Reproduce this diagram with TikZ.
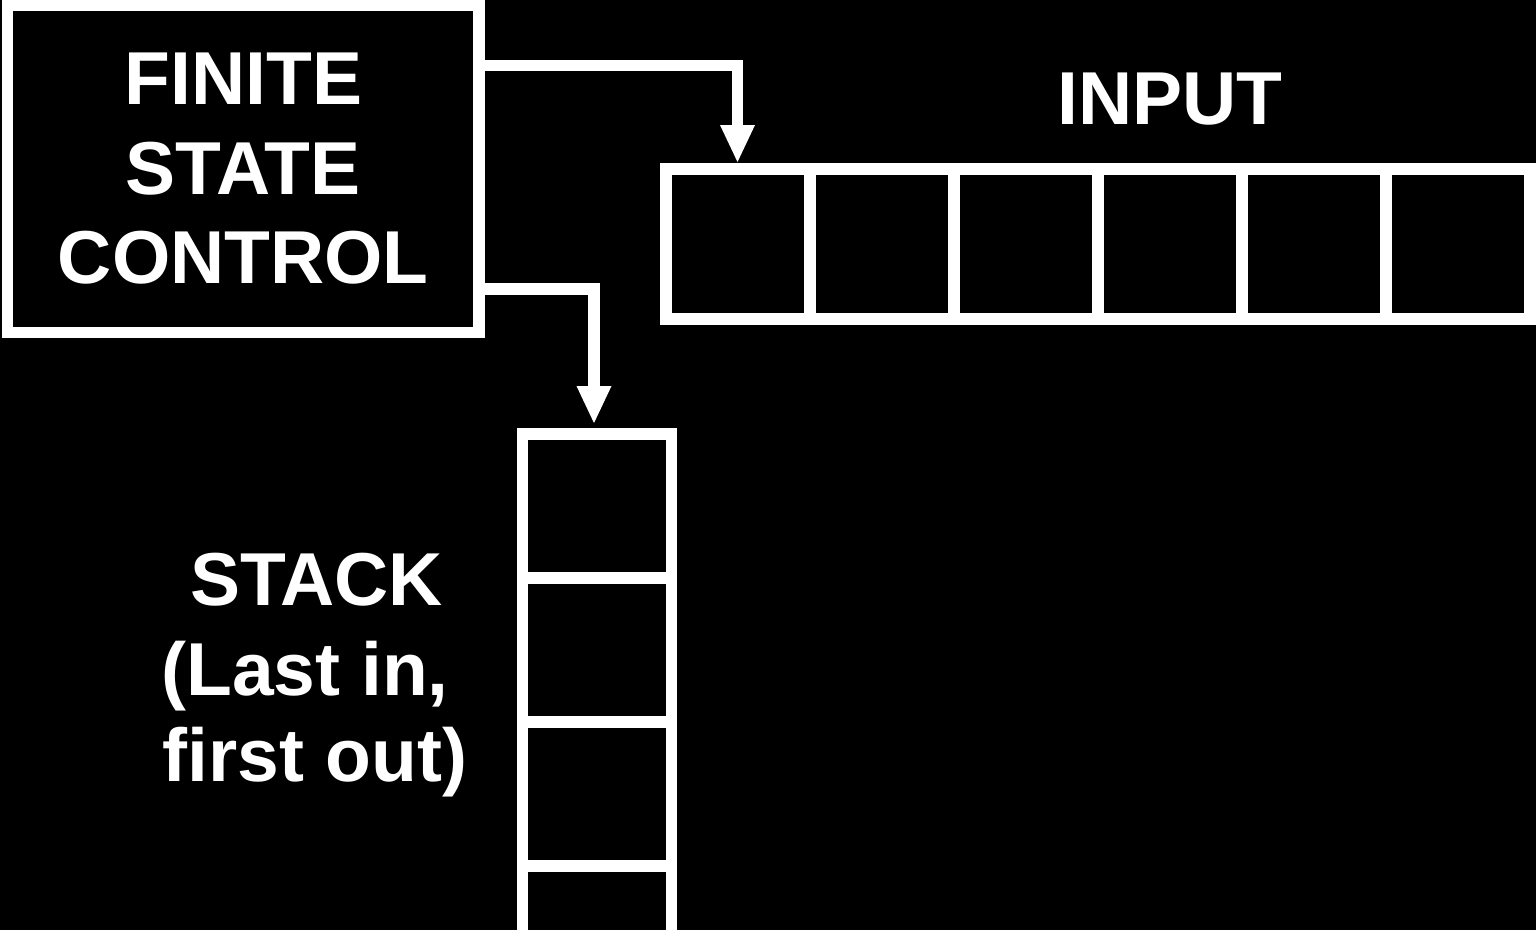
\documentclass[tikz,border=0pt]{standalone}
\usepackage{fontspec}
\setmainfont{Liberation Sans}
\usetikzlibrary{arrows.meta}
\begin{document}
\begin{tikzpicture}[x=1pt,y=-1pt, line join=miter,
  box/.style={draw=white, line width=11.5pt, inner sep=0pt, outer sep=0pt},
  cell/.style={box, minimum width=144pt, minimum height=150pt},
  scell/.style={box, minimum width=149pt, minimum height=144pt},
  conn/.style={draw=white, line width=11.5pt, -{Triangle[width=35pt,length=37pt,line width=0pt]}},
  lbl/.style={text=white, font=\bfseries\fontsize{75pt}{89.5pt}\selectfont, inner sep=0pt}]
\fill[black] (0,0) rectangle (1536,930);
\clip (0,0) rectangle (1536,930);
% finite state control
\node[box, lbl, align=center, minimum width=471.5pt, minimum height=327.5pt] (fsc) at (243.25,168.75) {FINITE\\STATE\\CONTROL};
% input tape
\node[cell] (in1) at (738,244) {};
\node[cell] (in2) at (882,244) {};
\node[cell] (in3) at (1026,244) {};
\node[cell] (in4) at (1170,244) {};
\node[cell] (in5) at (1314,244) {};
\node[cell] (in6) at (1458,244) {};
\node[lbl, anchor=base] (inlbl) at (1170,124) {INPUT};
% stack
\node[scell] (st1) at (597,506) {};
\node[scell] (st2) at (597,650) {};
\node[scell] (st3) at (597,794) {};
\node[scell] (st4) at (597,938) {};
\node[lbl, anchor=base] (stl1) at (316.5,605) {STACK};
\node[lbl, anchor=base] (stl2) at (305,695) {(Last in,};
\node[lbl, anchor=base] (stl3) at (315,781) {first out)};
% connectors
\draw[conn] ([yshift=-60.5pt]fsc.north east) -| ([xshift=-0.5pt,yshift=7pt]in1.north);
\draw[conn] ([yshift=-284pt]fsc.north east) -| ([xshift=-3pt,yshift=11pt]st1.north);
\end{tikzpicture}
\end{document}
